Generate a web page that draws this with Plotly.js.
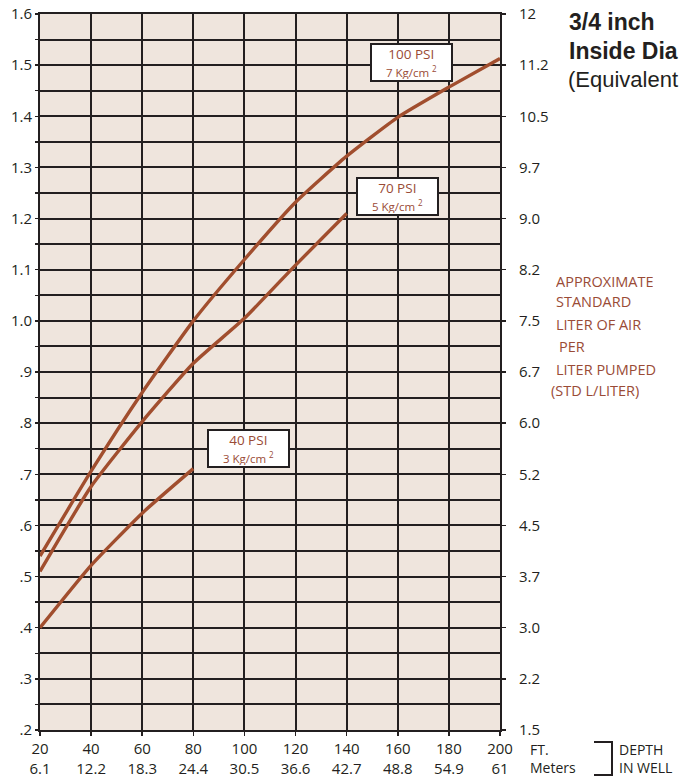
<!DOCTYPE html>
<html>
<head>
<meta charset="utf-8">
<script src="https://cdn.plot.ly/plotly-3.0.1.min.js"></script>
<style>html,body{margin:0;padding:0;background:#fff;}#chart{width:683px;height:782px;}</style>
</head>
<body>
<div id="chart"></div>
<script>
// ---- data ----
const depthFt = [20, 40, 60, 80, 100, 120, 140, 160, 180, 200];
const depthMeters = ['6.1', '12.2', '18.3', '24.4', '30.5', '36.6', '42.7', '48.8', '54.9', '61'];

const psi100Depth = [20, 40, 60, 80, 100, 120, 140, 160, 180, 200];
const psi100Air = [0.54, 0.706, 0.86, 1.0, 1.12, 1.232, 1.322, 1.398, 1.457, 1.513];

const psi70Depth = [20, 40, 60, 80, 100, 120, 140];
const psi70Air = [0.51, 0.676, 0.803, 0.917, 1.005, 1.109, 1.21];

const psi40Depth = [20, 40, 60, 80];
const psi40Air = [0.40, 0.522, 0.624, 0.711];

const leftTickVals = [0.2, 0.3, 0.4, 0.5, 0.6, 0.7, 0.8, 0.9, 1.0, 1.1, 1.2, 1.3, 1.4, 1.5, 1.6];
const leftTickText = ['.2', '.3', '.4', '.5', '.6', '.7', '.8', '.9', '1.0', '1.1', '1.2', '1.3', '1.4', '1.5', '1.6'];
const halfTickVals = [0.25, 0.35, 0.45, 0.55, 0.65, 0.75, 0.85, 0.95, 1.05, 1.15, 1.25, 1.35, 1.45, 1.55];

const rightTickVals = [0.2, 0.3, 0.4, 0.5, 0.6, 0.7, 0.8, 0.9, 1.0, 1.1, 1.2, 1.3, 1.4, 1.5, 1.6];
const rightTickText = ['1.5', '2.2', '3.0', '3.7', '4.5', '5.2', '6.0', '6.7', '7.5', '8.2', '9.0', '9.7', '10.5', '11.2', '12'];

const curveLabels = [
  {x: 165.3, y: 1.505, psi: '100 PSI', kg: '7 Kg/cm'},
  {x: 159.9, y: 1.243, psi: '70 PSI', kg: '5 Kg/cm'},
  {x: 101.5, y: 0.75, psi: '40 PSI', kg: '3 Kg/cm'}
];
const sideLabelLines = ['APPROXIMATE', 'STANDARD', 'LITER OF AIR', 'PER', 'LITER PUMPED', '(STD L/LITER)'];

// ---- layout helpers (pixel -> paper) ----
const L = 40, R = 500, T = 14, B = 730;
const px = x => (x - L) / (R - L);
const py = y => (B - y) / (B - T);

const curveColor = '#a14e2e';
const textBrown = '#9a4b36';
const ink = '#231f20';
const tickFont = {family: 'Open Sans, Noto Sans, sans-serif', size: 15, color: ink};

const lineStyle = {color: curveColor, width: 3.4, shape: 'spline', smoothing: 0.5};
const traces = [
  {x: psi100Depth, y: psi100Air, mode: 'lines', line: lineStyle, hoverinfo: 'x+y', name: '100 PSI'},
  {x: psi70Depth, y: psi70Air, mode: 'lines', line: lineStyle, hoverinfo: 'x+y', name: '70 PSI'},
  {x: psi40Depth, y: psi40Air, mode: 'lines', line: lineStyle, hoverinfo: 'x+y', name: '40 PSI'},
  {x: psi100Depth, y: psi100Air, yaxis: 'y2', mode: 'lines', line: {width: 0}, opacity: 0, hoverinfo: 'skip', showlegend: false}
];

const annotations = [];
curveLabels.forEach(c => {
  annotations.push({
    x: c.x, y: c.y, xref: 'x', yref: 'y', showarrow: false,
    text: c.psi + '<br><span style="font-size:11.5px">' + c.kg + ' <sup>2</sup></span>',
    font: {family: 'Open Sans, Noto Sans, sans-serif', size: 13.5, color: textBrown},
    bgcolor: '#ffffff', bordercolor: ink, borderwidth: 2, borderpad: 1,
    width: 77, height: 33, align: 'center', valign: 'middle'
  });
});

const sideX = [555, 555, 555, 558, 555, 550];
const sideY = [281, 301, 324, 346, 369, 390];
sideLabelLines.forEach((t, i) => {
  annotations.push({
    x: px(sideX[i]), y: py(sideY[i]), xref: 'paper', yref: 'paper', xanchor: 'left', yanchor: 'middle',
    showarrow: false, text: t, borderpad: 0, height: 18,
    font: {family: 'Open Sans, Noto Sans, sans-serif', size: 14.5, color: textBrown}
  });
});

const titleFont = 'Liberation Sans Narrow, Arial Narrow, Liberation Sans, sans-serif';
const smallFont = {family: 'Open Sans, Noto Sans, sans-serif', size: 14, color: ink};
annotations.push(
  {x: px(568), y: py(22), xref: 'paper', yref: 'paper', xanchor: 'left', yanchor: 'middle', showarrow: false, borderpad: 0,
   text: '<b>3/4 inch</b>', font: {family: titleFont, size: 23, color: ink}},
  {x: px(568), y: py(50.5), xref: 'paper', yref: 'paper', xanchor: 'left', yanchor: 'middle', showarrow: false, borderpad: 0,
   text: '<b>Inside Dia</b>', font: {family: titleFont, size: 23, color: ink}},
  {x: px(567), y: py(79), xref: 'paper', yref: 'paper', xanchor: 'left', yanchor: 'middle', showarrow: false, borderpad: 0,
   text: '(Equivalent', font: {family: titleFont, size: 22, color: ink}},
  {x: px(529), y: py(759), xref: 'paper', yref: 'paper', xanchor: 'left', yanchor: 'middle', showarrow: false, borderpad: 0,
   align: 'left', text: 'FT.<br>Meters', font: smallFont},
  {x: px(618), y: py(759), xref: 'paper', yref: 'paper', xanchor: 'left', yanchor: 'middle', showarrow: false, borderpad: 0,
   align: 'left', text: 'DEPTH<br>IN WELL', font: smallFont}
);

const shapes = [{
  type: 'path', xref: 'paper', yref: 'paper',
  path: 'M ' + px(594) + ' ' + py(742) + ' L ' + px(612) + ' ' + py(742) + ' L ' + px(612) + ' ' + py(775) + ' L ' + px(594) + ' ' + py(775),
  line: {color: ink, width: 2}
}];

const layout = {
  width: 683, height: 782,
  margin: {l: L, r: 683 - R, t: T, b: 782 - B, pad: 0},
  paper_bgcolor: '#ffffff', plot_bgcolor: '#efe5dd',
  showlegend: false,
  xaxis: {
    range: [20, 200], tickmode: 'array', tickvals: depthFt,
    ticktext: depthFt.map((f, i) => f + '<br>' + depthMeters[i]),
    showgrid: true, gridcolor: ink, gridwidth: 2, zeroline: false,
    showline: true, linecolor: ink, linewidth: 2, mirror: true,
    ticks: 'outside', ticklen: 4, tickwidth: 1.5, tickcolor: ink,
    tickfont: tickFont, fixedrange: true
  },
  yaxis: {
    range: [0.2, 1.6], tickmode: 'array', tickvals: leftTickVals, ticktext: leftTickText,
    showgrid: true, gridcolor: ink, gridwidth: 2, zeroline: false,
    showline: true, linecolor: ink, linewidth: 2, mirror: true,
    ticks: 'outside', ticklen: 3, tickwidth: 1.5, tickcolor: ink,
    minor: {tickmode: 'array', tickvals: halfTickVals, showgrid: true, gridcolor: ink, gridwidth: 2,
            ticks: 'outside', ticklen: 3, tickwidth: 1.5, tickcolor: ink},
    tickfont: tickFont, fixedrange: true
  },
  yaxis2: {
    range: [0.2, 1.6], overlaying: 'y', side: 'right', tickmode: 'array',
    tickvals: rightTickVals, ticktext: rightTickText,
    showgrid: false, zeroline: false, showline: false,
    ticks: 'outside', ticklen: 5, tickwidth: 1.5, tickcolor: ink,
    ticklabelstandoff: 10,
    tickfont: tickFont, fixedrange: true
  },
  annotations: annotations,
  shapes: shapes
};

Plotly.newPlot('chart', traces, layout, {displayModeBar: false, staticPlot: true});
</script>
</body>
</html>
